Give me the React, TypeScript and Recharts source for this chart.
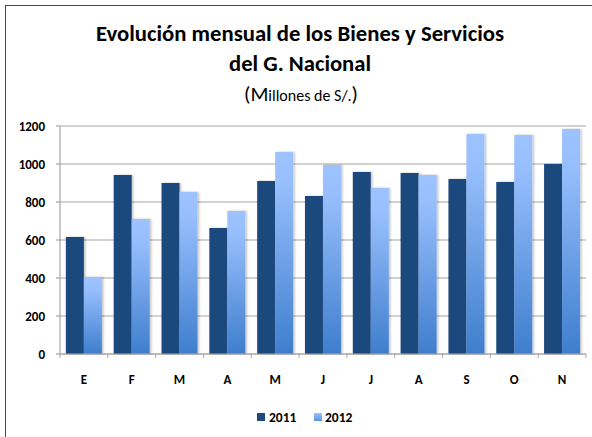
import React from 'react';
import { BarChart, Bar, XAxis, YAxis, CartesianGrid } from 'recharts';

const months = ['E', 'F', 'M', 'A', 'M', 'J', 'J', 'A', 'S', 'O', 'N'];
const values2011 = [616, 942, 900, 663, 911, 832, 958, 953, 921, 905, 1000];
const values2012 = [405, 710, 853, 753, 1063, 995, 874, 942, 1158, 1153, 1184];
const yTicks = [0, 200, 400, 600, 800, 1000, 1200];
const seriesNames = ['2011', '2012'];
const titleLines = ['Evolución mensual de los Bienes y Servicios', 'del G. Nacional'];
const subtitleParts = ['(M', 'illones de S/.', ')'];

const data = months.map((m, i) => ({ month: m, y2011: values2011[i], y2012: values2012[i] }));

const W = 592;
const H = 437;
const MARGIN = { top: 126, right: 6, left: 0, bottom: 53 };
const Y_AXIS_W = 60;
const X_AXIS_H = 30;
const PLOT_LEFT = MARGIN.left + Y_AXIS_W;
const PLOT_RIGHT = W - MARGIN.right;
const BAND = (PLOT_RIGHT - PLOT_LEFT) / months.length;

const DARK = '#1f497d';
const GRID = '#a6a6a6';
const FONT = "Carlito, 'Liberation Sans', Arial, sans-serif";
const TITLE_FONT = "Carlito, 'Liberation Sans Narrow', 'Liberation Sans', sans-serif";

const XTick = (props: any) => {
  const { x, y, payload, index } = props;
  const left = x - BAND / 2;
  return (
    <g>
      <line x1={left} x2={left} y1={y} y2={y + 4} stroke={GRID} strokeWidth={1} />
      {index === months.length - 1 && (
        <line x1={x + BAND / 2} x2={x + BAND / 2} y1={y} y2={y + 4} stroke={GRID} strokeWidth={1} />
      )}
      <text x={x} y={y + 30} textAnchor="middle" fontFamily={FONT} fontWeight={700} fontSize={13} fill="#000">
        {payload.value}
      </text>
    </g>
  );
};

const YTick = (props: any) => {
  const { x, y, payload } = props;
  return (
    <text x={x} y={y + 4.5} textAnchor="end" fontFamily={FONT} fontWeight={700} fontSize={13} fill="#000">
      {payload.value}
    </text>
  );
};

export default function App() {
  return (
    <div style={{ position: 'absolute', left: 0, top: 0, width: W, height: H, overflow: 'hidden', background: '#fff' }}>
      <div
        style={{
          position: 'absolute',
          left: 5,
          top: 5,
          width: W + 20,
          height: H + 20,
          borderLeft: '1.5px solid #344b66',
          borderTop: '1.5px solid #344b66',
          boxSizing: 'border-box',
        }}
      />
      <div style={{ position: 'absolute', left: 0, top: 0 }}>
        <BarChart width={W} height={H} data={data} margin={MARGIN} barCategoryGap="12.3%" barGap={0}>
          <defs>
            <linearGradient id="grad2012" x1="0" y1="0" x2="0" y2="1">
              <stop offset="0" stopColor="#9dc3ff" />
              <stop offset="0.15" stopColor="#98bffd" />
              <stop offset="1" stopColor="#3e7ecd" />
            </linearGradient>
            <filter id="barShadow" x="-20%" y="-5%" width="140%" height="110%">
              <feDropShadow dx="1.5" dy="0" stdDeviation="1" floodColor="#000" floodOpacity="0.25" />
            </filter>
          </defs>
          <CartesianGrid vertical={false} stroke={GRID} strokeWidth={1.2} />
          <XAxis
            dataKey="month"
            height={X_AXIS_H}
            tickLine={false}
            tickSize={0}
            tickMargin={0}
            axisLine={{ stroke: GRID, strokeWidth: 1.2 }}
            tick={<XTick />}
            interval={0}
          />
          <YAxis
            width={Y_AXIS_W}
            domain={[0, 1200]}
            ticks={yTicks}
            axisLine={{ stroke: GRID, strokeWidth: 1.2 }}
            tickLine={{ stroke: GRID, strokeWidth: 1.2 }}
            tickSize={4}
            tickMargin={11}
            tick={<YTick />}
            interval={0}
          />
          <Bar dataKey="y2011" name={seriesNames[0]} fill={DARK} isAnimationActive={false} filter="url(#barShadow)" />
          <Bar dataKey="y2012" name={seriesNames[1]} fill="url(#grad2012)" isAnimationActive={false} filter="url(#barShadow)" />
        </BarChart>
      </div>
      <svg width={W} height={H} style={{ position: 'absolute', left: 0, top: 0, pointerEvents: 'none' }}>
        <defs>
          <linearGradient id="legGrad" x1="0" y1="0" x2="0" y2="1">
            <stop offset="0" stopColor="#9dc3ff" />
            <stop offset="1" stopColor="#5b92dd" />
          </linearGradient>
        </defs>
        <text x={300} y={40.5} textAnchor="middle" fontFamily={TITLE_FONT} fontWeight={700} fontSize={22} fill="#000" textLength={408} lengthAdjust="spacingAndGlyphs">
          {titleLines[0]}
        </text>
        <text x={300} y={70.5} textAnchor="middle" fontFamily={TITLE_FONT} fontWeight={700} fontSize={22} fill="#000" textLength={142} lengthAdjust="spacingAndGlyphs">
          {titleLines[1]}
        </text>
        <text x={301} y={100.5} textAnchor="middle" fontFamily={TITLE_FONT} fill="#000">
          <tspan fontSize={21}>{subtitleParts[0]}</tspan>
          <tspan fontSize={16}>{subtitleParts[1]}</tspan>
          <tspan fontSize={21}>{subtitleParts[2]}</tspan>
        </text>
        <rect x={257} y={413} width={8} height={8} fill={DARK} />
        <text x={269} y={422} fontFamily={FONT} fontWeight={700} fontSize={13.5} fill="#000">
          {seriesNames[0]}
        </text>
        <rect x={314} y={413} width={8} height={8} fill="url(#legGrad)" />
        <text x={325} y={422} fontFamily={FONT} fontWeight={700} fontSize={13.5} fill="#000">
          {seriesNames[1]}
        </text>
      </svg>
    </div>
  );
}
